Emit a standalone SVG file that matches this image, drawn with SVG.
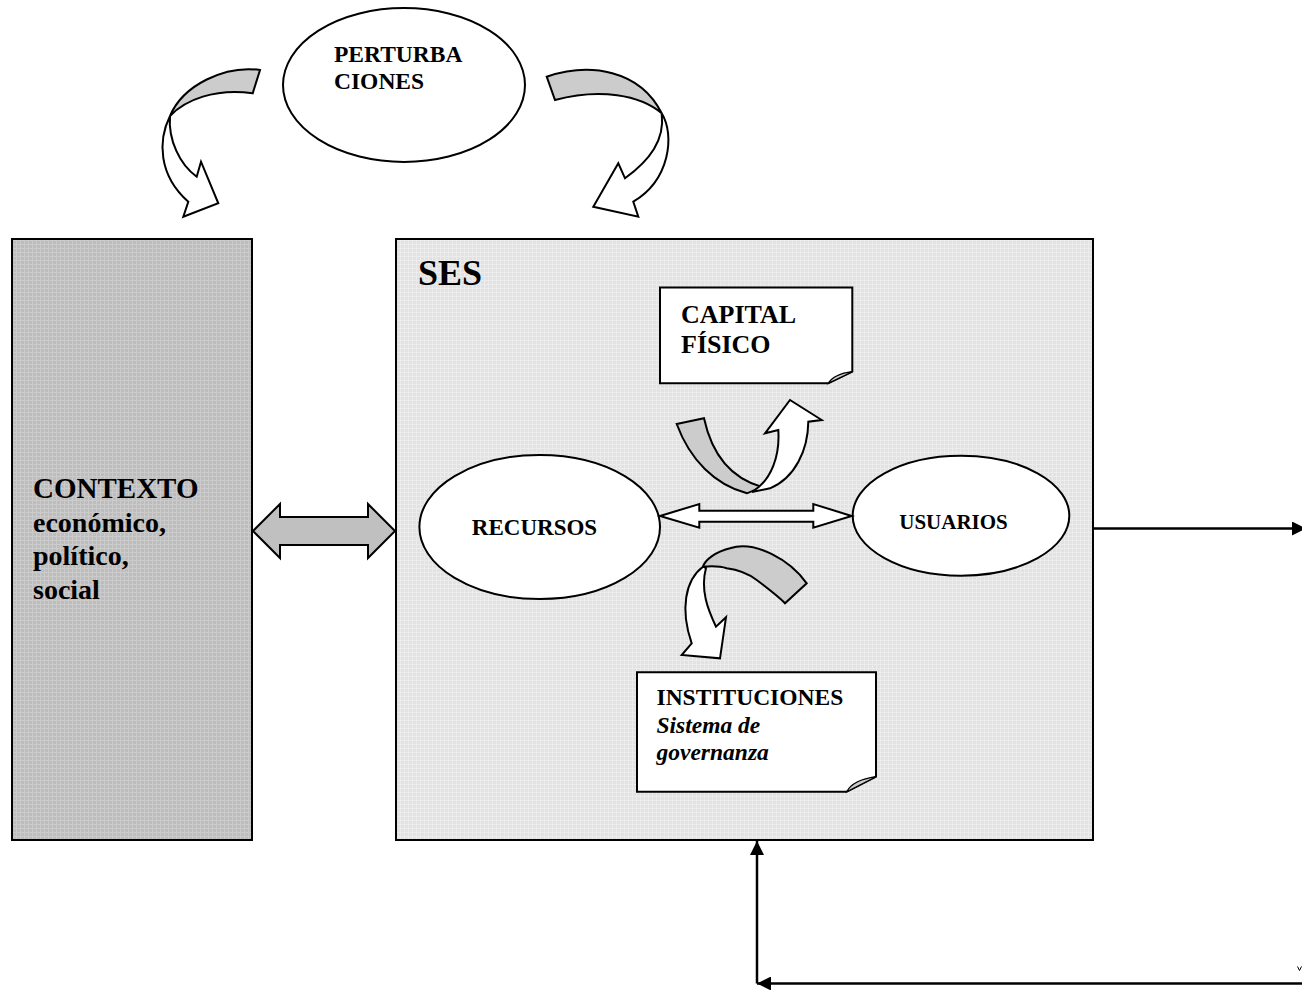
<svg xmlns="http://www.w3.org/2000/svg" width="1302" height="990" viewBox="0 0 1302 990">
<defs>
<pattern id="gridDark" width="4" height="4" patternUnits="userSpaceOnUse">
<rect width="4" height="4" fill="#bdbdbd"/>
<path d="M0 0.5H4M0.5 0V4" stroke="#cbcbcb" stroke-width="1"/>
</pattern>
<pattern id="gridLight" width="4" height="4" patternUnits="userSpaceOnUse">
<rect width="4" height="4" fill="#e2e2e2"/>
<path d="M0 0.5H4M0.5 0V4" stroke="#ececec" stroke-width="1"/>
</pattern>
<marker id="arr" viewBox="0 0 10 10" refX="10" refY="5" markerWidth="15" markerHeight="14" markerUnits="userSpaceOnUse" orient="auto-start-reverse">
<path d="M0 0L10 5L0 10Z" fill="#000"/>
</marker>
<style>
.ln{fill:none;stroke:#000;stroke-width:2.5}
.sh{stroke:#000;stroke-width:2;stroke-linejoin:miter}
.wf{fill:#fff}
.gb{fill:#cccccc}
.t{font-family:"Liberation Serif","Times New Roman",serif;font-weight:bold;fill:#000}
.ti{font-style:italic}
</style>
</defs>

<g id="contexto">
<rect x="12" y="239" width="240" height="601" fill="url(#gridDark)" class="sh"/>
<text class="t" x="33" y="498" font-size="29">CONTEXTO</text>
<text class="t" x="33" y="532" font-size="28">económico,</text>
<text class="t" x="33" y="565" font-size="28">político,</text>
<text class="t" x="33" y="599" font-size="28">social</text>
</g>

<g id="ses">
<rect x="396" y="239" width="697" height="601" fill="url(#gridLight)" class="sh"/>
<text class="t" x="418" y="285" font-size="36">SES</text>
</g>

<g id="perturbaciones">
<ellipse cx="404" cy="85" rx="121" ry="77" class="sh wf"/>
<text class="t" x="334" y="62" font-size="23.5">PERTURBA</text>
<text class="t" x="334" y="89" font-size="23.5">CIONES</text>
</g>

<g id="capital">
<path d="M660 287.5H852.3V371.7L828.3 383.3H660Z" class="sh wf"/>
<path d="M852.3 371.7L828.3 383.3Q834 374 852.3 371.7Z" fill="#cccccc" stroke="#000" stroke-width="1.2"/>
<text class="t" x="681" y="323" font-size="26">CAPITAL</text>
<text class="t" x="681" y="353" font-size="26">FÍSICO</text>
</g>

<g id="recursos">
<ellipse cx="539.7" cy="527" rx="120.3" ry="72" class="sh wf"/>
<text class="t" x="534.5" y="535" font-size="23" text-anchor="middle">RECURSOS</text>
</g>

<g id="usuarios">
<ellipse cx="961" cy="515.7" rx="108.3" ry="60" class="sh wf"/>
<text class="t" x="953.5" y="529" font-size="21" text-anchor="middle">USUARIOS</text>
</g>

<g id="instituciones">
<path d="M637 672.3H876V776.7L846.7 791.7H637Z" class="sh wf"/>
<path d="M876 776.7L846.7 791.7Q853 780 876 776.7Z" fill="#cccccc" stroke="#000" stroke-width="1.2"/>
<text class="t" x="656.5" y="705" font-size="23.5">INSTITUCIONES</text>
<text class="t ti" x="656.5" y="733" font-size="23.5">Sistema de</text>
<text class="t ti" x="656.5" y="760" font-size="23.5">governanza</text>
</g>

<g id="connectors">
<path d="M260 70C225 65 183 85 170 116C185 100 215 88 252.7 93.3Z" class="sh gb"/>
<path d="M170 116C158 140 158 175 188.3 201.7L183.3 216.7L218.3 203.3L201 161.7L196.7 176.7C180 165 168 140 170 116Z" class="sh wf"/>
<path d="M546.7 76.7C590 62 640 70 661.7 113.3C640 95 600 88 555 100Z" class="sh gb"/>
<path d="M661.7 113.3C675 135 670 180 633.3 201.7L638.3 216.7L593.3 206.7L618.3 163.3L625 178.3C650 160 665 140 661.7 113.3Z" class="sh wf"/>
<path d="M253 531L280 504V517H368V504L395 531L368 558V545H280V558Z" class="sh" fill="#c0c0c0"/>
<path d="M660 516L699.3 504V510.7H813.3V504L851.7 516L813.3 527.7V521.7H699.3V527.7Z" class="sh wf"/>
<path d="M676.7 424L704 418.3C712 455 730 478 762 487L747 493.3C715 485 690 460 676.7 424Z" class="sh gb"/>
<path d="M752 492C772 480 780 455 778.3 430L765 433.3L790 400L821.7 420L808.3 421.7C808 450 795 478 770 488.3Z" class="sh wf"/>
<path d="M806.7 583.3C790 560 755 540 730 548.3C715 552 705 560 703 566.7C712 566 720 566 726.7 568.3C740 570 750 575 756.7 580C770 590 780 598 785 603.3Z" class="sh gb"/>
<path d="M703 566.7C685 580 680 610 691.7 643.3L681.7 655L720 658.3L726 617.3L716 626.7C708 610 700 590 706 568Z" class="sh wf"/>
<line x1="1093" y1="528.5" x2="1306" y2="528.5" class="ln" marker-end="url(#arr)"/>
<polyline points="1302,983.5 757,983.5" class="ln" marker-end="url(#arr)"/>
<line x1="757" y1="983.5" x2="757" y2="841" class="ln" marker-end="url(#arr)"/>
<path d="M1297.5 966.5L1299.5 970.5L1301.5 966.5" fill="none" stroke="#000" stroke-width="1"/>
</g>
</svg>
